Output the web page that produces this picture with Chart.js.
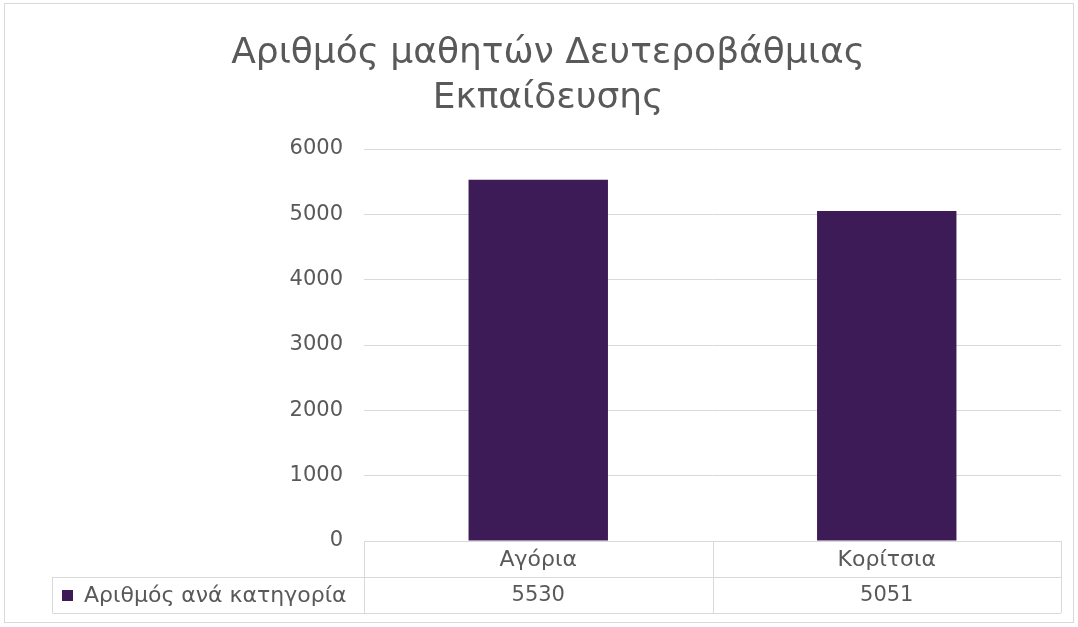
<!DOCTYPE html>
<html>
<head>
<meta charset="utf-8">
<script src="https://cdn.jsdelivr.net/npm/chart.js@4/dist/chart.umd.min.js"></script>
<style>
body { margin: 0; background: #fff; }
#wrap { position: relative; width: 1078px; height: 627px; }
</style>
</head>
<body>
<div id="wrap"><canvas id="chart" width="1078" height="627"></canvas></div>
<script>
// data
var categories = ['Αγόρια', 'Κορίτσια'];
var values = [5530, 5051];
var seriesName = 'Αριθμός ανά κατηγορία';
var titleLines = ['Αριθμός μαθητών Δευτεροβάθμιας', 'Εκπαίδευσης'];

var textColor = '#595959';
var lineColor = '#d9d9d9';
var barColor = '#3d1b56';
var fontFamily = "'DejaVu Sans', sans-serif";

// data table under the plot + outer frame
var tablePlugin = {
  id: 'dataTable',
  beforeDraw: function (chart) {
    var ctx = chart.ctx;
    ctx.save();
    ctx.strokeStyle = lineColor;
    ctx.lineWidth = 1;
    ctx.strokeRect(4.5, 3.5, 1069, 619);
    ctx.restore();
  },
  afterDraw: function (chart) {
    var ctx = chart.ctx;
    var area = chart.chartArea;
    var xs = chart.scales.x;
    var rowH = 36;
    var top = area.bottom;
    var legendLeft = 52.5;
    var half = (area.right - area.left) / categories.length / 2;

    ctx.save();
    ctx.strokeStyle = lineColor;
    ctx.lineWidth = 1;
    ctx.beginPath();
    // horizontal lines
    ctx.moveTo(area.left, top + 0.5); ctx.lineTo(area.right, top + 0.5);
    ctx.moveTo(legendLeft, top + rowH + 0.5); ctx.lineTo(area.right, top + rowH + 0.5);
    ctx.moveTo(legendLeft, top + 2 * rowH + 0.5); ctx.lineTo(area.right, top + 2 * rowH + 0.5);
    // vertical lines
    ctx.moveTo(legendLeft, top + rowH); ctx.lineTo(legendLeft, top + 2 * rowH);
    ctx.moveTo(Math.round(area.left) + 0.5, top); ctx.lineTo(Math.round(area.left) + 0.5, top + 2 * rowH);
    categories.forEach(function (c, i) {
      var xr = Math.round(xs.getPixelForValue(i) + half) + 0.5;
      ctx.moveTo(xr, top); ctx.lineTo(xr, top + 2 * rowH);
    });
    ctx.stroke();

    ctx.fillStyle = textColor;
    ctx.textAlign = 'center';
    ctx.textBaseline = 'middle';
    categories.forEach(function (c, i) {
      var cx = xs.getPixelForValue(i);
      ctx.font = '22px ' + fontFamily;
      ctx.fillText(c, cx, top + rowH / 2 + 1);
      ctx.font = '21px ' + fontFamily;
      ctx.fillText(String(values[i]), cx, top + rowH * 1.5 + 1);
    });

    // legend key
    ctx.fillStyle = barColor;
    ctx.fillRect(62, top + rowH + 13, 11, 11);
    ctx.fillStyle = textColor;
    ctx.textAlign = 'left';
    ctx.font = '22px ' + fontFamily;
    ctx.fillText(seriesName, 84, top + rowH * 1.5 + 1);
    ctx.restore();
  }
};

new Chart(document.getElementById('chart').getContext('2d'), {
  type: 'bar',
  data: {
    labels: categories,
    datasets: [{
      label: seriesName,
      data: values,
      backgroundColor: barColor,
      categoryPercentage: 0.8,
      barPercentage: 0.5
    }]
  },
  options: {
    responsive: false,
    animation: false,
    layout: { padding: { left: 35, right: 17, top: 0, bottom: 86 } },
    plugins: {
      legend: { display: false },
      tooltip: { enabled: false },
      title: {
        display: true,
        text: titleLines,
        color: textColor,
        font: { family: fontFamily, size: 36, weight: 'normal', lineHeight: 1.25 },
        padding: { top: 31, bottom: 28 }
      }
    },
    scales: {
      x: { display: false },
      y: {
        min: 0,
        max: 6000,
        ticks: {
          stepSize: 1000,
          color: textColor,
          padding: 21,
          font: { family: fontFamily, size: 21 },
          callback: function (v) { return String(v); }
        },
        grid: { color: lineColor, drawTicks: false },
        border: { display: false },
        afterFit: function (scale) { scale.width = 329; }
      }
    }
  },
  plugins: [tablePlugin]
});
</script>
</body>
</html>
